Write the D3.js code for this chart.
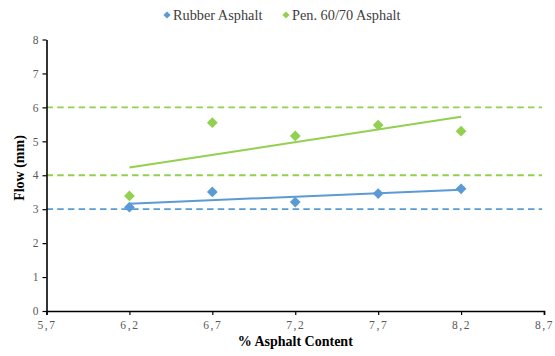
<!DOCTYPE html>
<html>
<head>
<meta charset="utf-8">
<script src="https://cdn.jsdelivr.net/npm/d3@7"></script>
<style>
  body { margin: 0; background: #fff; }
  svg { display: block; }
  svg text { font-family: "Liberation Serif", "Times New Roman", serif; }
</style>
</head>
<body>
<svg id="chart" width="555" height="356"></svg>
<script>
// Asphalt content (%) and measured flow (mm)
const asphaltContent = [6.2, 6.7, 7.2, 7.7, 8.2];
const rubberFlow = [3.06, 3.51, 3.21, 3.46, 3.60];
const penFlow = [3.39, 5.55, 5.16, 5.48, 5.30];
const seriesNames = ["Rubber Asphalt", "Pen. 60/70 Asphalt"];
const seriesColors = ["#5B9BD5", "#92D050"];
// Specification limits (dashed lines)
const limitValues = [3, 4, 6];
const limitColors = ["#5B9BD5", "#92D050", "#92D050"];
const xTicks = [5.7, 6.2, 6.7, 7.2, 7.7, 8.2, 8.7];
const yTicks = [0, 1, 2, 3, 4, 5, 6, 7, 8];

const svg = d3.select("#chart");
const margin = { left: 46.5, right: 11, top: 39.5, bottom: 45 };
const W = 555, H = 356;

const x = d3.scaleLinear().domain([5.7, 8.7]).range([margin.left, W - margin.right]);
const y = d3.scaleLinear().domain([0, 8]).range([H - margin.bottom, margin.top]);

const fmt = d => d3.format(".1f")(d).replace(".", ",");

// Least-squares trend line
function trend(xs, ys) {
  const mx = d3.mean(xs), my = d3.mean(ys);
  const b = d3.sum(xs, (v, i) => (v - mx) * (ys[i] - my)) / d3.sum(xs, v => (v - mx) ** 2);
  const a = my - b * mx;
  const x0 = d3.min(xs), x1 = d3.max(xs);
  return [[x0, a + b * x0], [x1, a + b * x1]];
}

// Dashed limit lines
svg.append("g").selectAll("line").data(limitValues).join("line")
  .attr("x1", x(5.7)).attr("x2", x(8.7) - 2)
  .attr("y1", d => y(d)).attr("y2", d => y(d))
  .attr("stroke", (d, i) => limitColors[i])
  .attr("stroke-width", 1.8)
  .attr("stroke-dasharray", "6.5,4.2");

// Axes
const xAxis = svg.append("g")
  .attr("transform", `translate(0,${y(0)})`)
  .call(d3.axisBottom(x).tickValues(xTicks).tickFormat(fmt).tickSize(4).tickSizeOuter(4));
const yAxis = svg.append("g")
  .attr("transform", `translate(${x(5.7)},0)`)
  .call(d3.axisLeft(y).tickValues(yTicks).tickFormat(d3.format("d")).tickSize(4).tickSizeOuter(0));

[xAxis, yAxis].forEach(g => {
  g.attr("font-family", null);
  g.select(".domain").attr("stroke", "#000").attr("stroke-width", 1.6);
  g.selectAll(".tick line").attr("stroke", "#000").attr("stroke-width", 1.2);
  g.selectAll(".tick text")
    .attr("fill", "#595959")
    .style("font-size", "11.5px");
});
xAxis.selectAll(".tick text").attr("dy", "0.95em").style("letter-spacing", "1.6px");
yAxis.selectAll(".tick text").attr("x", -8);

// Trend lines
const line = d3.line().x(d => x(d[0])).y(d => y(d[1]));
const series = [rubberFlow, penFlow];
series.forEach((vals, i) => {
  svg.append("path")
    .datum(trend(asphaltContent, vals))
    .attr("d", line)
    .attr("fill", "none")
    .attr("stroke", seriesColors[i])
    .attr("stroke-width", 2);
});

// Diamond markers
const diamond = d3.symbol().type(d3.symbolSquare).size(58);
series.forEach((vals, i) => {
  svg.append("g").selectAll("path")
    .data(vals.map((v, j) => [asphaltContent[j], v]))
    .join("path")
    .attr("d", diamond)
    .attr("transform", d => `translate(${x(d[0])},${y(d[1])}) rotate(45)`)
    .attr("fill", seriesColors[i]);
});

// Axis titles
svg.append("text")
  .attr("x", (x(5.7) + x(8.7)) / 2).attr("y", 346)
  .attr("text-anchor", "middle")
  .style("font-size", "14px").style("font-weight", "bold")
  .text("% Asphalt Content");
svg.append("text")
  .attr("transform", `translate(24,168) rotate(-90)`)
  .attr("text-anchor", "middle")
  .style("font-size", "14px").style("font-weight", "bold")
  .text("Flow (mm)");

// Legend
const legendX = [167, 286];
const legend = svg.append("g");
seriesNames.forEach((name, i) => {
  const g = legend.append("g").attr("transform", `translate(${legendX[i]},15)`);
  g.append("path")
    .attr("d", d3.symbol().type(d3.symbolSquare).size(26))
    .attr("transform", "rotate(45)")
    .attr("fill", seriesColors[i]);
  g.append("text")
    .attr("x", 6).attr("dy", "0.35em")
    .attr("fill", "#404040")
    .style("font-size", "14.3px")
    .text(name);
});
</script>
</body>
</html>
